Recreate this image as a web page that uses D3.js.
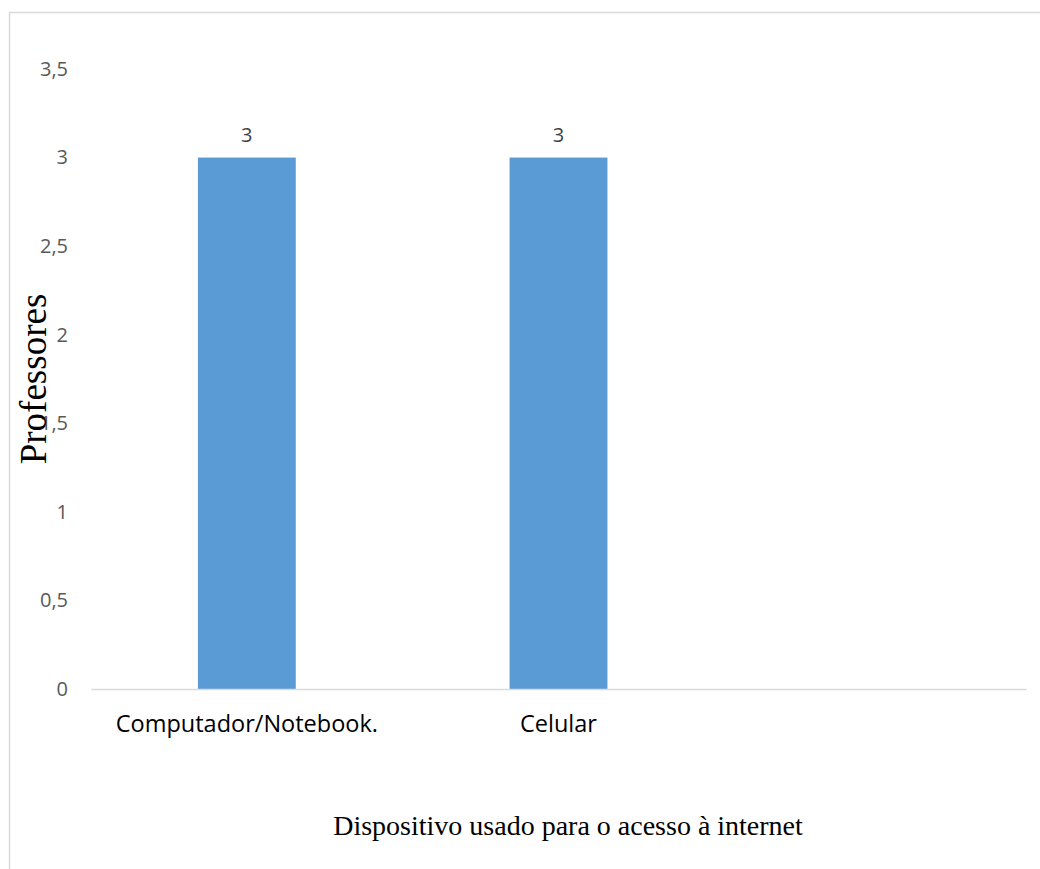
<!DOCTYPE html>
<html>
<head>
<meta charset="utf-8">
<script src="https://cdn.jsdelivr.net/npm/d3@7"></script>
<style>
  body { margin: 0; background: #fff; }
</style>
</head>
<body>
<div id="chart"></div>
<script>
const categories = ["Computador/Notebook.", "Celular", ""];
const values = [3, 3, null];
const yTicks = [0, 0.5, 1, 1.5, 2, 2.5, 3, 3.5];

const W = 1040, H = 869;
const margin = { top: 69, right: 14, bottom: 180, left: 91 };
const width = W - margin.left - margin.right;
const height = H - margin.top - margin.bottom;

const svg = d3.select("#chart")
  .append("svg")
  .attr("width", W)
  .attr("height", H);

// chart frame
svg.append("rect")
  .attr("x", 9.5).attr("y", 12.5)
  .attr("width", W + 20).attr("height", H + 20)
  .attr("fill", "none")
  .attr("stroke", "#d9d9d9")
  .attr("stroke-width", 1.5);

const g = svg.append("g")
  .attr("transform", `translate(${margin.left},${margin.top})`);

const x = d3.scaleBand().domain(categories).range([0, width])
  .paddingInner(0.686).paddingOuter(0.343);
const y = d3.scaleLinear().domain([0, 3.5]).range([height, 0]);

const fmt = d => String(d).replace(".", ",");

// y tick labels
const yAxis = g.append("g")
  .call(d3.axisLeft(y).tickValues(yTicks).tickFormat(fmt).tickSize(0).tickPadding(23));
yAxis.select(".domain").remove();
yAxis.selectAll("text")
  .attr("fill", "#595959")
  .style("font-family", "'Open Sans', sans-serif")
  .style("font-size", "20px");

const rows = categories.map((c, i) => ({ c, v: values[i] })).filter(d => d.v != null);

// bars
g.selectAll("rect.bar")
  .data(rows)
  .enter().append("rect")
  .attr("class", "bar")
  .attr("x", d => x(d.c))
  .attr("y", d => y(d.v))
  .attr("width", x.bandwidth())
  .attr("height", d => height - y(d.v))
  .attr("fill", "#5b9bd5");

// value labels
g.selectAll("text.lbl")
  .data(rows)
  .enter().append("text")
  .attr("class", "lbl")
  .attr("x", d => x(d.c) + x.bandwidth() / 2)
  .attr("y", d => y(d.v) - 16)
  .attr("text-anchor", "middle")
  .attr("fill", "#404040")
  .style("font-family", "'Open Sans', sans-serif")
  .style("font-size", "20px")
  .text(d => d.v);

// x axis
const xAxis = g.append("g")
  .attr("transform", `translate(0,${height})`)
  .call(d3.axisBottom(x).tickSize(0).tickPadding(26));
xAxis.select(".domain").attr("stroke", "#d9d9d9").attr("stroke-width", 1.5);
xAxis.selectAll("text")
  .attr("fill", "#000")
  .style("font-family", "'Open Sans', sans-serif")
  .style("font-size", "23.5px");

// axis titles
svg.append("text")
  .attr("x", 568).attr("y", 835)
  .attr("text-anchor", "middle")
  .style("font-family", "'Liberation Serif', 'Times New Roman', serif")
  .style("font-size", "28px")
  .text("Dispositivo usado para o acesso à internet");

svg.append("text")
  .attr("transform", "translate(46,379) rotate(-90)")
  .attr("text-anchor", "middle")
  .style("font-family", "'Liberation Serif', 'Times New Roman', serif")
  .style("font-size", "37px")
  .text("Professores");
</script>
</body>
</html>
